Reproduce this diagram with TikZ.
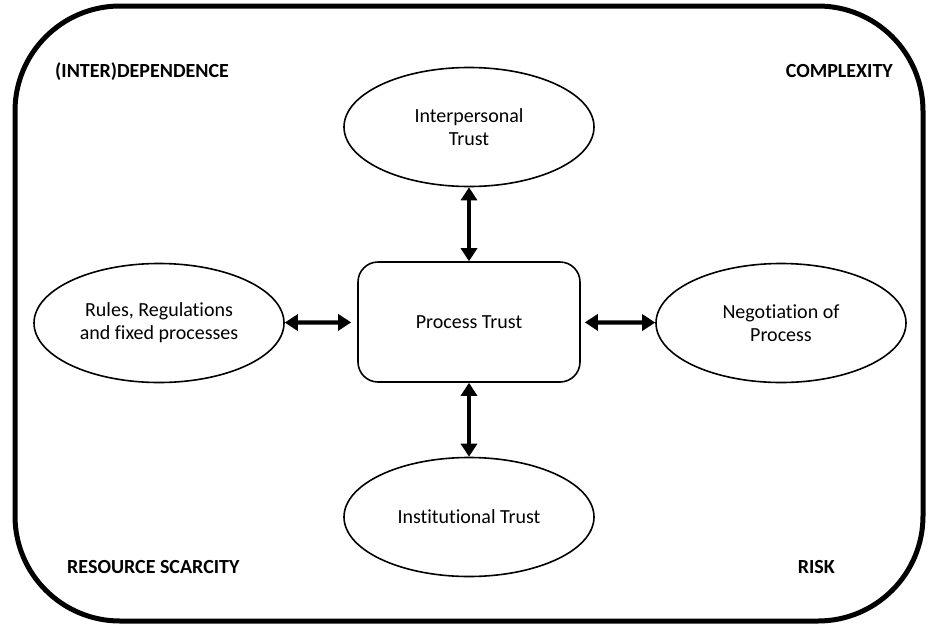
\documentclass[tikz,border=0pt]{standalone}
\usepackage{fontspec}
\setmainfont[Ligatures=NoCommon]{Carlito}
\usetikzlibrary{shapes.geometric,arrows.meta}
\begin{document}
\begin{tikzpicture}[x=1pt,y=-1pt,
  oval/.style={ellipse,draw,line width=1.6pt,minimum width=250pt,minimum height=119pt,inner sep=0pt,align=center,font=\fontsize{20}{23}\selectfont},
  pbox/.style={rectangle,rounded corners=20pt,draw,line width=1.6pt,minimum width=222pt,minimum height=120pt,align=center,font=\fontsize{20}{23}\selectfont},
  dbl/.style={line width=4.2pt,{Triangle[width=16pt,length=13pt]}-{Triangle[width=16pt,length=13pt]}},
  corner/.style={inner sep=0pt,font=\fontsize{20}{23}\selectfont\bfseries}]
\useasboundingbox (0,0) rectangle (929,627);
\draw[line width=5pt,rounded corners=105pt] (15,6) rectangle (923,621);
\node[pbox] (proc) at (469,322) {Process Trust};
\node[oval] (inter) at (469,127) {Interpersonal\\Trust};
\node[oval] (inst) at (469,517) {Institutional Trust};
\node[oval] (rules) at (159,323) {Rules, Regulations\\and fixed processes};
\node[oval] (nego) at (781,323) {Negotiation of\\Process};
\draw[dbl] (inter) -- (proc);
\draw[dbl] (proc) -- (inst);
\draw[dbl,shorten >=6pt] (rules) -- (proc);
\draw[dbl,shorten <=4pt] (proc) -- (nego);
\node[corner,anchor=base west] (dep) at (55,77) {(INTER)DEPENDENCE};
\node[corner,anchor=base east] (cpx) at (893,77) {COMPLEXITY};
\node[corner,anchor=base west] (res) at (67,573) {RESOURCE SCARCITY};
\node[corner,anchor=base east] (risk) at (835,573) {RISK};
\end{tikzpicture}
\end{document}
